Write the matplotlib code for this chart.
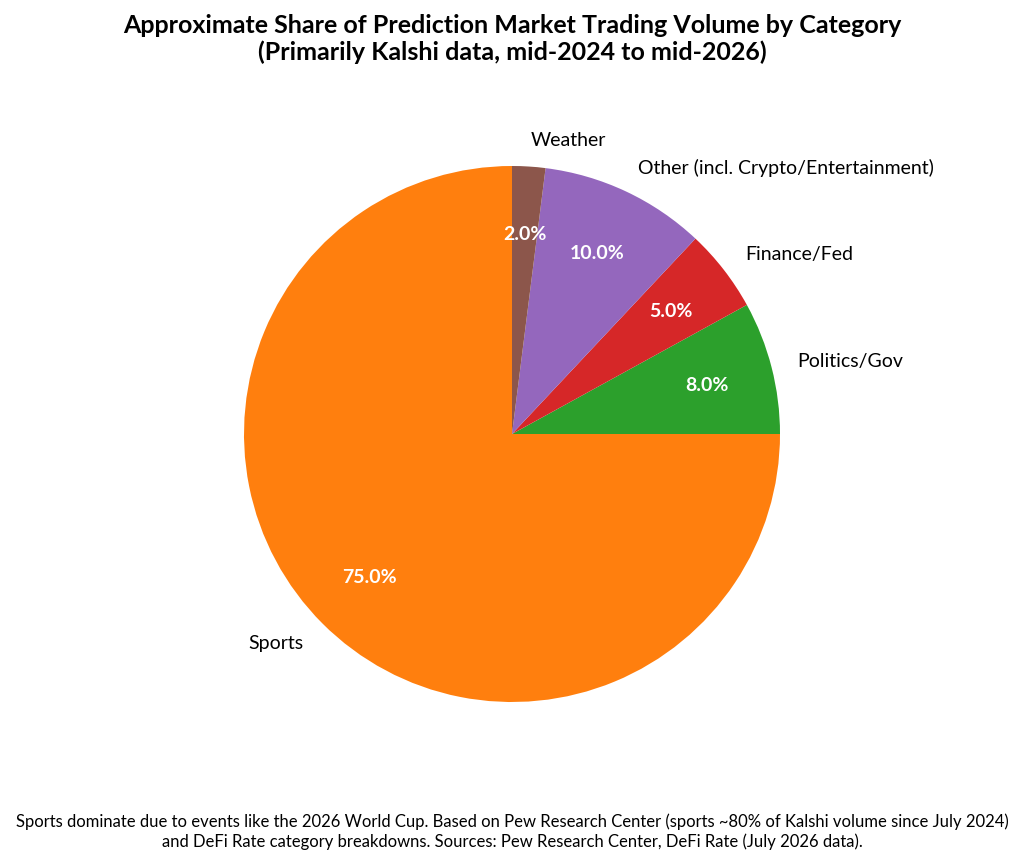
import matplotlib
matplotlib.use("Agg")
import matplotlib.pyplot as plt

categories = ["Sports", "Politics/Gov", "Finance/Fed", "Other (incl. Crypto/Entertainment)", "Weather"]
shares = [75.0, 8.0, 5.0, 10.0, 2.0]
colors = ["#ff7f0e", "#2ca02c", "#d62728", "#9467bd", "#8c564b"]

plt.rcParams['font.family'] = ['Lato', 'DejaVu Sans']
fig = plt.figure(figsize=(10.24, 8.62), dpi=100)
ax = fig.add_axes([0, 0, 1, 1])
wedges, texts, autotexts = ax.pie(shares, labels=categories, colors=colors, startangle=90,
                                  autopct='%1.1f%%', pctdistance=0.75, labeldistance=1.1,
                                  textprops={'fontsize': 14})
for t in autotexts:
    t.set_color('white'); t.set_fontweight('bold'); t.set_fontsize(14)
ax.set_xlim(-512/268, 512/268)
ax.set_ylim(-(862-435)/268, 435/268)
ax.set_aspect('equal')
ax.axis('off')
fig.text(0.5, 0.955, "Approximate Share of Prediction Market Trading Volume by Category\n(Primarily Kalshi data, mid-2024 to mid-2026)",
         ha='center', va='center', fontsize=18, fontweight='bold')
fig.text(0.5, 0.035, "Sports dominate due to events like the 2026 World Cup. Based on Pew Research Center (sports ~80% of Kalshi volume since July 2024)\nand DeFi Rate category breakdowns. Sources: Pew Research Center, DeFi Rate (July 2026 data).",
         ha='center', va='center', fontsize=12)
fig.savefig("out.png", dpi=100)
